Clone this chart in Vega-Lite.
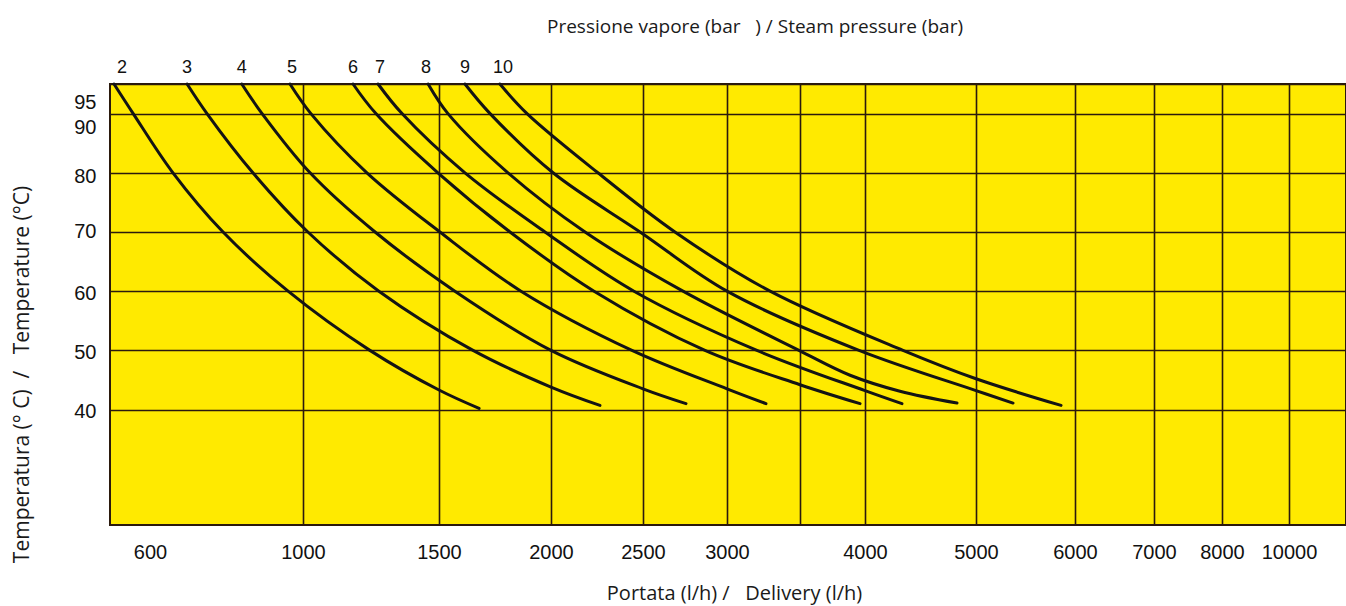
{
  "$schema": "https://vega.github.io/schema/vega-lite/v6.json",
  "width": 1236,
  "height": 441,
  "autosize": "none",
  "padding": {"left": 110, "top": 84, "right": 0, "bottom": 81},
  "background": "white",
  "title": {
    "text": "Pressione vapore (bar\u00a0\u00a0\u00a0) / Steam pressure (bar)",
    "anchor": "middle",
    "frame": "group",
    "dx": 27,
    "offset": 22,
    "font": "Open Sans",
    "fontSize": 19,
    "fontWeight": "normal",
    "color": "#1a1a1a"
  },
  "config": {
    "view": {"fill": "#ffea00", "stroke": "#2b1a0d", "strokeWidth": 2},
    "axis": {
      "domain": false,
      "ticks": false,
      "grid": true,
      "gridColor": "#2b1a0d",
      "gridOpacity": 1,
      "gridWidth": 1.6,
      "labelFont": "Liberation Sans",
      "labelFontSize": 20,
      "labelColor": "#111111",
      "titleFont": "Open Sans",
      "titleFontSize": 20,
      "titleFontWeight": "normal",
      "titleColor": "#1a1a1a"
    }
  },
  "datasets": {
    "curves": [
      {"p": "2", "flow": 510, "temp": 95},
      {"p": "2", "flow": 558, "temp": 90},
      {"p": "2", "flow": 660, "temp": 80},
      {"p": "2", "flow": 791, "temp": 70},
      {"p": "2", "flow": 961, "temp": 60},
      {"p": "2", "flow": 1246, "temp": 50},
      {"p": "2", "flow": 1500, "temp": 43.3},
      {"p": "2", "flow": 1679, "temp": 40.2},
      {"p": "3", "flow": 697, "temp": 95},
      {"p": "3", "flow": 749, "temp": 90},
      {"p": "3", "flow": 869, "temp": 80},
      {"p": "3", "flow": 1018, "temp": 70},
      {"p": "3", "flow": 1279, "temp": 60},
      {"p": "3", "flow": 1652, "temp": 50},
      {"p": "3", "flow": 2000, "temp": 43.8},
      {"p": "3", "flow": 2266, "temp": 40.7},
      {"p": "4", "flow": 840, "temp": 95},
      {"p": "4", "flow": 893, "temp": 90},
      {"p": "4", "flow": 1026, "temp": 80},
      {"p": "4", "flow": 1265, "temp": 70},
      {"p": "4", "flow": 1571, "temp": 60},
      {"p": "4", "flow": 2000, "temp": 50},
      {"p": "4", "flow": 2500, "temp": 43.5},
      {"p": "4", "flow": 2756, "temp": 41},
      {"p": "5", "flow": 966, "temp": 95},
      {"p": "5", "flow": 1029, "temp": 90},
      {"p": "5", "flow": 1235, "temp": 80},
      {"p": "5", "flow": 1504, "temp": 70},
      {"p": "5", "flow": 1866, "temp": 60},
      {"p": "5", "flow": 2440, "temp": 50},
      {"p": "5", "flow": 3000, "temp": 43.5},
      {"p": "5", "flow": 3267, "temp": 41},
      {"p": "6", "flow": 1184, "temp": 95},
      {"p": "6", "flow": 1268, "temp": 90},
      {"p": "6", "flow": 1496, "temp": 80},
      {"p": "6", "flow": 1817, "temp": 70},
      {"p": "6", "flow": 2234, "temp": 60},
      {"p": "6", "flow": 2869, "temp": 50},
      {"p": "6", "flow": 3500, "temp": 44.2},
      {"p": "6", "flow": 3962, "temp": 41},
      {"p": "7", "flow": 1276, "temp": 95},
      {"p": "7", "flow": 1364, "temp": 90},
      {"p": "7", "flow": 1616, "temp": 80},
      {"p": "7", "flow": 1973, "temp": 70},
      {"p": "7", "flow": 2451, "temp": 60},
      {"p": "7", "flow": 3205, "temp": 50},
      {"p": "7", "flow": 4000, "temp": 43.2},
      {"p": "7", "flow": 4333, "temp": 41},
      {"p": "8", "flow": 1460, "temp": 95},
      {"p": "8", "flow": 1540, "temp": 90},
      {"p": "8", "flow": 1808, "temp": 80},
      {"p": "8", "flow": 2185, "temp": 70},
      {"p": "8", "flow": 2738, "temp": 60},
      {"p": "8", "flow": 3493, "temp": 50},
      {"p": "8", "flow": 3885, "temp": 45.8},
      {"p": "8", "flow": 4315, "temp": 43.1},
      {"p": "8", "flow": 4829, "temp": 41.1},
      {"p": "9", "flow": 1616, "temp": 95},
      {"p": "9", "flow": 1728, "temp": 90},
      {"p": "9", "flow": 2011, "temp": 80},
      {"p": "9", "flow": 2484, "temp": 70},
      {"p": "9", "flow": 3000, "temp": 60},
      {"p": "9", "flow": 3954, "temp": 50},
      {"p": "9", "flow": 5000, "temp": 43.2},
      {"p": "9", "flow": 5374, "temp": 41.1},
      {"p": "10", "flow": 1772, "temp": 95},
      {"p": "10", "flow": 1893, "temp": 90},
      {"p": "10", "flow": 2255, "temp": 80},
      {"p": "10", "flow": 2690, "temp": 70},
      {"p": "10", "flow": 3295, "temp": 60},
      {"p": "10", "flow": 4342, "temp": 50},
      {"p": "10", "flow": 5000, "temp": 45.2},
      {"p": "10", "flow": 5859, "temp": 40.7}
    ],
    "labels": [
      {"p": "2", "flow": 530, "temp": 95},
      {"p": "3", "flow": 697, "temp": 95},
      {"p": "4", "flow": 840, "temp": 95},
      {"p": "5", "flow": 971, "temp": 95},
      {"p": "6", "flow": 1184, "temp": 95},
      {"p": "7", "flow": 1283, "temp": 95},
      {"p": "8", "flow": 1452, "temp": 95},
      {"p": "9", "flow": 1616, "temp": 95},
      {"p": "10", "flow": 1786, "temp": 95}
    ]
  },
  "layer": [
    {
      "data": {"name": "curves"},
      "mark": {"type": "line", "stroke": "#141414", "strokeWidth": 3, "interpolate": "catmull-rom", "strokeCap": "round"},
      "encoding": {
        "x": {
          "field": "flow",
          "type": "quantitative",
          "scale": {
            "type": "linear",
            "domain": [500, 600, 1000, 1500, 2000, 2500, 3000, 3500, 4000, 5000, 6000, 7000, 8000, 10000, 11700],
            "range": [0, 40, 193, 329, 441, 533, 617, 690, 755, 866, 965, 1044, 1112, 1179, 1236],
            "nice": false,
            "zero": false
          },
          "axis": {
            "values": [600, 1000, 1500, 2000, 2500, 3000, 3500, 4000, 5000, 6000, 7000, 8000, 10000],
            "format": "d",
            "labelExpr": "datum.value == 3500 ? '' : datum.label",
            "labelPadding": 17,
            "gridOpacity": {"condition": {"test": "datum.value == 600", "value": 0}, "value": 1},
            "title": "Portata (l/h) /\u00a0\u00a0\u00a0Delivery (l/h)",
            "titleBaseline": "middle",
            "titleX": 624,
            "titleY": 68
          }
        },
        "y": {
          "field": "temp",
          "type": "quantitative",
          "scale": {"domain": [20.5, 95], "nice": false, "zero": false},
          "axis": {
            "values": [40, 50, 60, 70, 80, 90, 95],
            "labelPadding": 14,
            "labelOffset": {
              "condition": [
                {"test": "datum.value == 95", "value": 18},
                {"test": "datum.value == 90", "value": 14},
                {"test": "datum.value == 80", "value": 4},
                {"test": "datum.value == 70", "value": 0}
              ],
              "value": 2
            },
            "title": "Temperatura (° C)\u00a0\u00a0/\u00a0\u00a0\u00a0Temperature (°C)",
            "titleFontSize": 21,
            "titleBaseline": "middle",
            "titleX": -88,
            "titleY": 290
          }
        },
        "detail": {"field": "p"}
      }
    },
    {
      "data": {"name": "labels"},
      "mark": {"type": "text", "font": "Liberation Sans", "fontSize": 18, "color": "#111111", "baseline": "alphabetic", "dy": -11},
      "encoding": {
        "x": {"field": "flow", "type": "quantitative"},
        "y": {"field": "temp", "type": "quantitative"},
        "text": {"field": "p"}
      }
    }
  ]
}
